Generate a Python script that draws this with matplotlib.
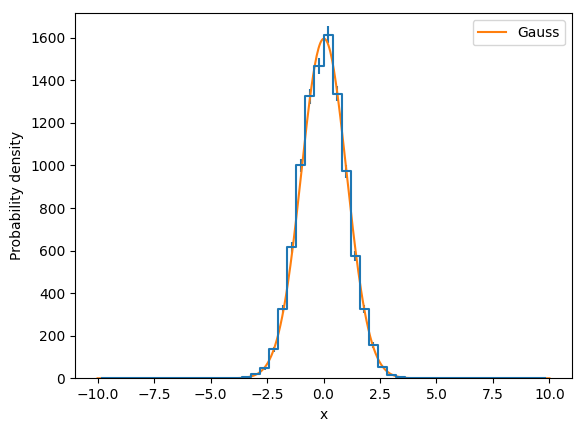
import numpy as np
import matplotlib
matplotlib.use('Agg')
import matplotlib.pyplot as plt

# bin centers (width 0.4 from -10 to 10) and counts
centers = np.arange(-9.8, 10.0, 0.4)
counts = [0, 0, 0, 0, 0, 0, 0, 0, 0, 0,
          0, 0, 0, 0, 0, 2, 6, 22, 47, 136,
          326, 615, 1000, 1325, 1466, 1615, 1338, 972, 575, 326,
          157, 55, 17, 4, 1, 0, 0, 0, 0, 0,
          0, 0, 0, 0, 0, 0, 0, 0, 0, 0]

# fitted Gauss parameters
gauss_amp = 1596
gauss_mu = 0.02
gauss_sigma = 1.0

counts = np.array(counts, dtype=float)
xs = np.linspace(-10, 10, 500)
gauss = gauss_amp * np.exp(-0.5 * ((xs - gauss_mu) / gauss_sigma) ** 2)

fig = plt.figure(figsize=(5.8, 4.32), dpi=100)
ax = fig.add_axes([75 / 580, (432 - 378.3) / 432, 497 / 580, 365 / 432])
ax.errorbar(centers, counts, yerr=np.sqrt(counts), drawstyle='steps-mid')
ax.plot(xs, gauss, label='Gauss')
ax.set_xlim(-11, 11)
ax.set_ylim(0, 1715)
ax.set_xlabel('x')
ax.set_ylabel('Probability density')
ax.legend()
plt.savefig('out.png', dpi=100)
